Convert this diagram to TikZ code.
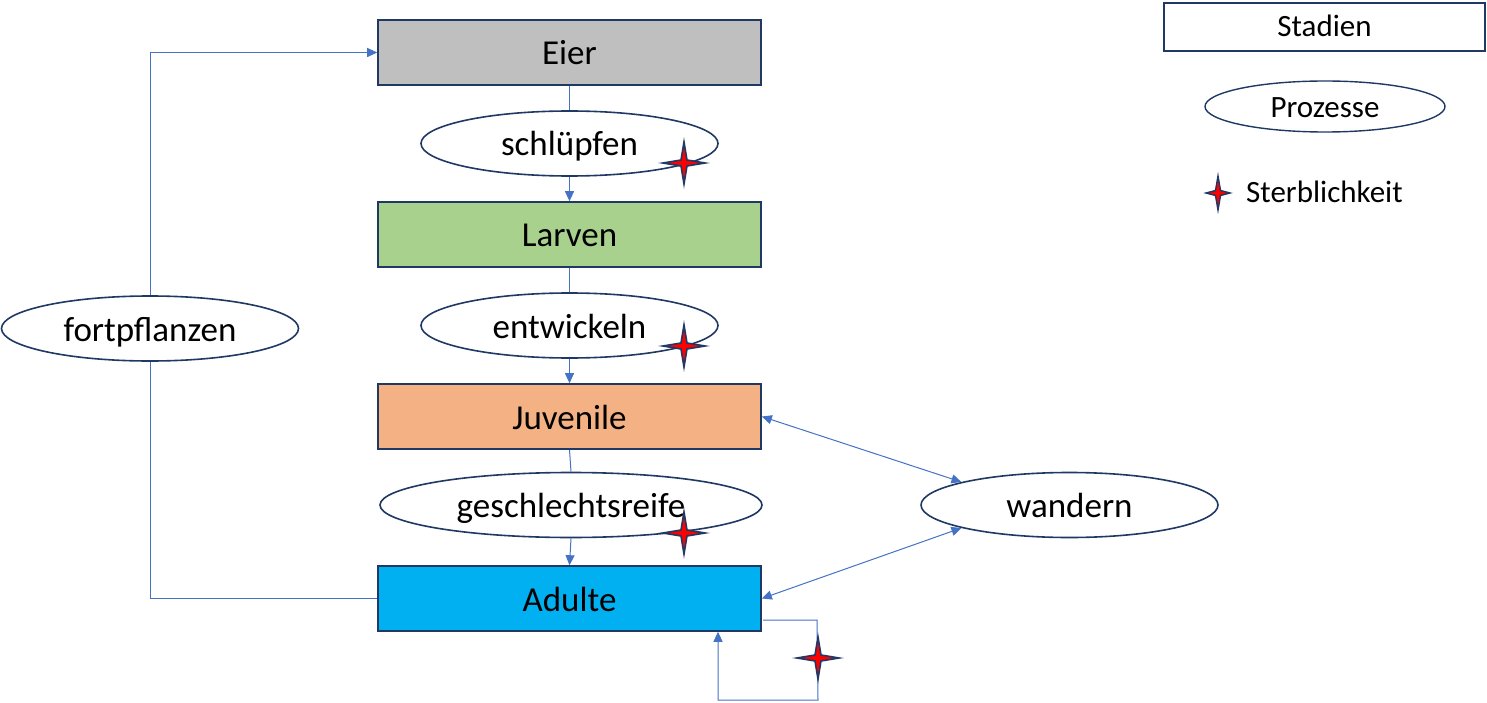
\documentclass[tikz,border=0pt]{standalone}
\usepackage{fontspec}
\setmainfont{Carlito}
\usetikzlibrary{arrows.meta,shapes.geometric}
\definecolor{navy}{HTML}{1F3864}
\definecolor{conn}{HTML}{4472C4}
\definecolor{eiergray}{HTML}{BFBFBF}
\definecolor{larvgreen}{HTML}{A9D18E}
\definecolor{juvorange}{HTML}{F4B183}
\definecolor{adultblue}{HTML}{00B0F0}
\tikzset{
  stagebox/.style={draw=navy, line width=1.6pt, minimum width=383pt, minimum height=65pt, inner sep=0pt, text height=31pt, text depth=6pt, font=\fontsize{35}{40}\selectfont},
  proc/.style={ellipse, draw=navy, line width=1.6pt, minimum width=297pt, minimum height=65pt, inner sep=0pt, fill=white, text height=31pt, text depth=6pt, font=\fontsize{35}{40}\selectfont},
  link/.style={draw=conn, line width=1pt},
  arr/.style={link, -{Triangle[length=10pt,width=9pt]}},
  darr/.style={link, {Triangle[length=10pt,width=9pt]}-{Triangle[length=10pt,width=9pt]}},
  mort/.pic={\draw[fill=red, draw=navy, line width=1.6pt, line join=miter]
      (0,-21) -- (3,-3) -- (21,0) -- (3,3) -- (0,21) -- (-3,3) -- (-21,0) -- (-3,-3) -- cycle;},
  mortsmall/.pic={\draw[fill=red, draw=navy, line width=1.4pt, line join=miter]
      (0,-17) -- (2.5,-2.5) -- (12,0) -- (2.5,2.5) -- (0,17) -- (-2.5,2.5) -- (-12,0) -- (-2.5,-2.5) -- cycle;}
}
\begin{document}
\begin{tikzpicture}[x=1pt,y=-1pt]
\useasboundingbox (0,0) rectangle (1487,703);

% stages
\node[stagebox, fill=eiergray] (E) at (569.5,52.5) {Eier};
\node[stagebox, fill=larvgreen] (L) at (569.5,234.5) {Larven};
\node[stagebox, fill=juvorange] (J) at (569.5,416.5) {Juvenile};
\node[stagebox, fill=adultblue] (A) at (569.5,598.5) {Adulte};

% processes
\node[proc] (S) at (569.5,143.5) {schlüpfen};
\node[proc] (En) at (569.5,325.5) {entwickeln};
\node[proc, minimum width=382pt] (G) at (571,505) {geschlechtsreife};
\node[proc] (W) at (1069.5,505) {wandern};
\node[proc] (F) at (150,328.5) {fortpflanzen};

% connectors
\draw[link] (E.south) -- (S.north);
\draw[arr] (S.south) -- (L.north);
\draw[link] (L.south) -- (En.north);
\draw[arr] (En.south) -- (J.north);
\draw[link] (J.south) -- (G.north);
\draw[arr] (G.south) -- (A.north);

\draw[link] (A.west) -| (F.south);
\draw[arr] (F.north) |- (E.west);

\draw[darr] (J.east) -- (W.168);
\draw[darr] (A.east) -- (W.192);

% self loop
\coordinate (ls) at (763,620);
\coordinate (l1) at (817,620);
\coordinate (l2) at (818,700);
\coordinate (l3) at (718,700);
\draw[arr] (ls) -- (l1) -- (l2) -- (l3) -- (l3 |- A.south);

% mortality stars
\pic at (684,163) {mort};
\pic at (684,346) {mort};
\pic at (684,533) {mort};
\pic at (818,658) {mort};

% legend
\node[draw=navy, line width=1.6pt, minimum width=321pt, minimum height=48pt, inner sep=0pt, text height=26pt, text depth=6pt, font=\fontsize{31}{36}\selectfont] (LS) at (1324.5,27) {Stadien};
\node[ellipse, draw=navy, line width=1.4pt, minimum width=240pt, minimum height=51pt, inner sep=0pt, text height=28pt, text depth=5pt, font=\fontsize{31}{36}\selectfont] (LP) at (1325,106.5) {Prozesse};
\pic at (1218,193) {mortsmall};
\node[anchor=base west, inner sep=0pt, font=\fontsize{31}{36}\selectfont] (LM) at (1246,203) {Sterblichkeit};
\end{tikzpicture}
\end{document}
